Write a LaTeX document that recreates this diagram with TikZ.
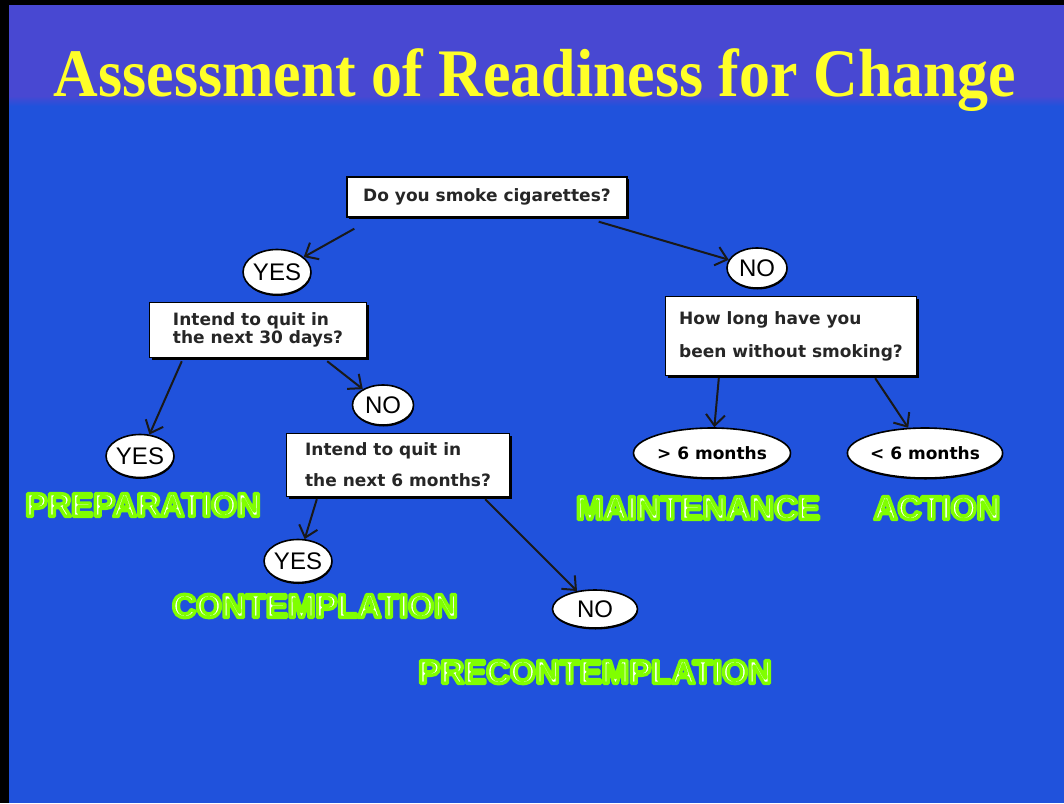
\documentclass[tikz,border=0pt]{standalone}
\usepackage{fontspec}
\usetikzlibrary{arrows.meta,shapes.geometric,shadows}
\newfontfamily\titlefont{Liberation Serif}
\newfontfamily\boxfont{DejaVu Sans}
\newfontfamily\ovalfont{Liberation Sans}

\definecolor{topband}{RGB}{72,72,210}
\definecolor{slideblue}{RGB}{32,82,220}
\definecolor{titleyellow}{RGB}{255,255,40}

% white letters with a green rim
\newcommand\greenglow[1]{\special{pdf:literal direct 0.5 1 0 RG 3.4 w 1 j 2 Tr}#1\special{pdf:literal direct 0 Tr 0 j}}

\tikzset{
  question/.style={rectangle, draw=black, line width=1.4pt, fill=white, inner ysep=0pt, align=left,
    drop shadow={shadow xshift=2pt, shadow yshift=-2pt, fill=black, opacity=1},
    font=\boxfont\bfseries\fontsize{17}{18}\selectfont, text=black!85},
  answer/.style={ellipse, draw=black, line width=1.6pt, fill=white, inner sep=0pt,
    drop shadow={shadow xshift=0.5pt, shadow yshift=-1.5pt, fill=black, opacity=1},
    font=\ovalfont\fontsize{24}{26}\selectfont, text=black},
  stage/.style={font=\ovalfont\bfseries\fontsize{33}{36}\selectfont, text=white},
  arr/.style={line width=2pt, black!90, -{Straight Barb[length=11pt,width=19pt]}},
}

\begin{document}
\begin{tikzpicture}[x=1pt, y=-1pt]
    \useasboundingbox (0,0) rectangle (1064,803);
    % slide background
    \fill[slideblue] (0,0) rectangle (1064,803);
    \fill[topband] (0,0) rectangle (1064,97);
    \shade[top color=topband, bottom color=slideblue] (0,96) rectangle (1064,106);
    \fill[black] (0,0) rectangle (9,803);
    \fill[black] (0,0) rectangle (1064,5);

    \node[anchor=base, font=\titlefont\bfseries\fontsize{68}{70}\selectfont, text=titleyellow] (title) at (535,96)
        {\scalebox{0.91}[1]{Assessment of Readiness for Change}};

    % questions
    \node[question, minimum width=280pt, minimum height=40pt] (smoke) at (487,197) {Do you smoke cigarettes?};
    \node[question, minimum width=217pt, minimum height=55pt] (quit30) at (258,330)
        {Intend to quit in\\the next 30 days?};
    \node[question, minimum width=223pt, minimum height=63pt,
        font=\boxfont\bfseries\fontsize{17}{31}\selectfont] (quit6) at (398,465)
        {Intend to quit in\\the next 6 months?};
    \node[question, minimum width=251pt, minimum height=79pt,
        font=\boxfont\bfseries\fontsize{17}{33}\selectfont] (howlong) at (791,336)
        {How long have you\\been without smoking?};

    % answers
    \node[answer, minimum width=65pt, minimum height=45pt] (yesA) at (277,272) {YES};
    \node[answer, minimum width=60pt, minimum height=40pt] (noA) at (757,268) {NO};
    \node[answer, minimum width=64pt, minimum height=43pt] (yesB) at (140,456) {YES};
    \node[answer, minimum width=61pt, minimum height=40pt] (noB) at (383,405) {NO};
    \node[answer, minimum width=65pt, minimum height=43pt] (yesC) at (298,561) {YES};
    \node[answer, minimum width=85pt, minimum height=38pt] (noC) at (595,609) {NO};
    \node[answer, minimum width=157pt, minimum height=50pt, font=\boxfont\bfseries\fontsize{17}{18}\selectfont] (over6) at (712,453) {> 6 months};
    \node[answer, minimum width=155pt, minimum height=50pt, font=\boxfont\bfseries\fontsize{17}{18}\selectfont] (under6) at (925,453) {< 6 months};

    % stages
    \node[stage] (prep) at (143,505) {\greenglow{PREPARATION}};
    \node[stage] (contemp) at (315,606) {\greenglow{CONTEMPLATION}};
    \node[stage] (precontemp) at (595,672) {\greenglow{PRECONTEMPLATION}};
    \node[stage] (maint) at (698,508) {\greenglow{MAINTENANCE}};
    \node[stage] (action) at (937,508) {\greenglow{ACTION}};

    % arrows
    \draw[arr] ([xshift=8pt, yshift=-11pt]smoke.south west) -- (yesA);
    \draw[arr] ([xshift=-29pt, yshift=-4pt]smoke.south east) -- (noA);
    \draw[arr] ([xshift=33pt, yshift=-3pt]quit30.south west) -- (yesB);
    \draw[arr] ([xshift=-40pt, yshift=-3pt]quit30.south east) -- (noB);
    \draw[arr] ([xshift=31pt, yshift=-2pt]quit6.south west) -- (yesC);
    \draw[arr] ([xshift=-25pt, yshift=-2pt]quit6.south east) -- (noC);
    \draw[arr] ([xshift=54pt, yshift=-2pt]howlong.south west) -- (over6);
    \draw[arr] ([xshift=-42pt, yshift=-2pt]howlong.south east) -- (under6);
\end{tikzpicture}
\end{document}
